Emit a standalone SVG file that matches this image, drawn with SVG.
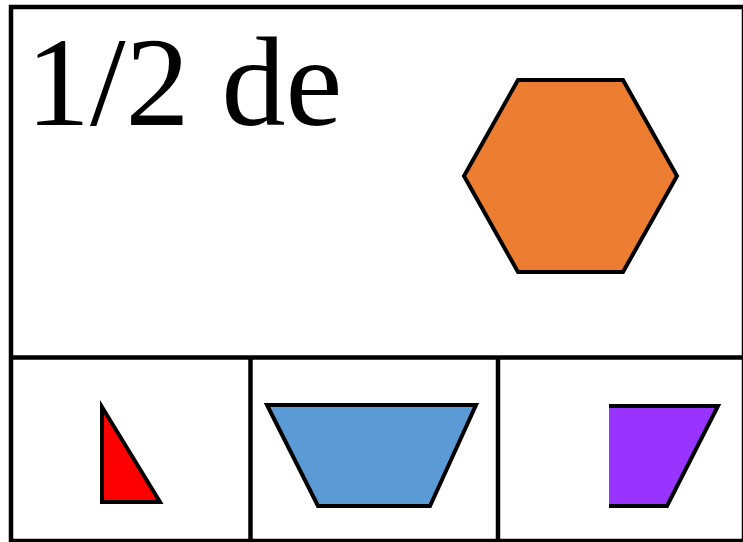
<svg xmlns="http://www.w3.org/2000/svg" width="743" height="542" viewBox="0 0 743 542">
<style>
.frame{fill:none;stroke:#000;stroke-width:4.5}
.shape{stroke:#000;stroke-width:4;stroke-linejoin:miter}
.lbl{font-family:"Liberation Serif","Times New Roman",serif;font-size:128px;fill:#000}
</style>
<rect width="743" height="542" fill="#fff"/>
<g id="frame">
<rect class="frame" x="11" y="7" width="733" height="534"/>
<line class="frame" x1="11" y1="357.5" x2="743" y2="357.5"/>
<line class="frame" x1="250.5" y1="357.5" x2="250.5" y2="542"/>
<line class="frame" x1="498" y1="357.5" x2="498" y2="542"/>
</g>
<g id="label"><text class="lbl" x="26" y="125">1/2 de</text></g>
<g id="hexagon"><polygon class="shape" fill="#ED7D31" points="518,80 623,80 677,176 623,272 518,272 464,176"/></g>
<g id="triangle"><polygon class="shape" fill="#FF0000" points="102,407 102,502 160,502"/></g>
<g id="trapezoid"><polygon class="shape" fill="#5B9BD5" points="267,405 476,405 430,506 318,506"/></g>
<g id="quad">
<polygon fill="#9933FF" points="609,406 718,406 667,506 609,506"/>
<polyline class="shape" fill="none" points="609,406 718,406 667,506 609,506"/>
</g>
</svg>
